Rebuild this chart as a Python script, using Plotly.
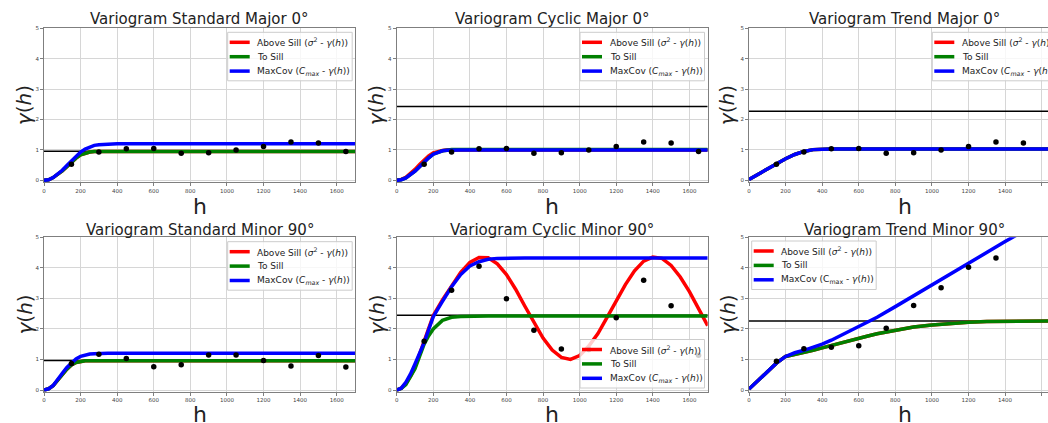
import plotly.graph_objects as go

# ---------------- data ----------------
TITLES = ["Variogram Standard Major 0°", "Variogram Cyclic Major 0°", "Variogram Trend Major 0°",
          "Variogram Standard Minor 90°", "Variogram Cyclic Minor 90°", "Variogram Trend Minor 90°"]

LAG_H = [150, 300, 450, 600, 750, 900, 1050, 1200, 1350, 1500, 1650]
major_pts = [0.53, 0.93, 1.04, 1.05, 0.89, 0.91, 1.00, 1.11, 1.26, 1.23, 0.95]
std_minor_pts = [0.87, 1.17, 1.03, 0.76, 0.83, 1.15, 1.15, 0.97, 0.79, 1.13, 0.75]
cyc_minor_pts = [1.60, 3.27, 4.05, 2.99, 1.96, 1.34, 1.33, 2.37, 3.59, 2.76, 1.14]
trend_minor_pts = [0.94, 1.35, 1.40, 1.45, 2.02, 2.77, 3.35, 4.02, 4.32]

SILLS = [0.96, 2.43, 2.27, 0.97, 2.45, 2.26]

# Standard major
h_std = [0, 25, 50, 75, 100, 125, 150, 175, 200, 225, 250, 275, 300, 350, 400, 1700]
std_major_green = [0, 0.02, 0.09, 0.19, 0.31, 0.45, 0.60, 0.73, 0.84, 0.90, 0.93, 0.945, 0.95, 0.95, 0.95, 0.95]
std_major_red = [0, 0.02, 0.09, 0.19, 0.31, 0.45, 0.60, 0.73, 0.84, 0.90, 0.93, 0.945, 0.95, 0.95, 0.95, 0.95]
std_major_blue = [0, 0.02, 0.09, 0.20, 0.33, 0.49, 0.65, 0.80, 0.93, 1.03, 1.10, 1.15, 1.17, 1.19, 1.20, 1.20]

# Cyclic major
cyc_major_blue = [0, 0.02, 0.08, 0.18, 0.30, 0.45, 0.60, 0.74, 0.86, 0.93, 0.97, 0.99, 1.00, 1.00, 1.00, 1.00]
cyc_major_green = [0, 0.02, 0.08, 0.18, 0.30, 0.45, 0.60, 0.74, 0.86, 0.93, 0.97, 0.99, 1.01, 1.01, 1.01, 1.01]
cyc_major_red = [0, 0.03, 0.10, 0.22, 0.36, 0.52, 0.67, 0.80, 0.90, 0.95, 0.98, 1.00, 1.00, 1.00, 1.00, 1.00]

# Trend major
h_trend_major = [0, 50, 100, 150, 200, 250, 300, 350, 400, 450, 1700]
trend_major_curve = [0.03, 0.20, 0.38, 0.55, 0.71, 0.85, 0.95, 1.01, 1.03, 1.03, 1.03]

# Standard minor
std_minor_green = [0, 0.04, 0.14, 0.30, 0.50, 0.68, 0.82, 0.90, 0.94, 0.955, 0.96, 0.96, 0.96, 0.96, 0.96, 0.96]
std_minor_red = [0, 0.04, 0.14, 0.30, 0.50, 0.68, 0.82, 0.90, 0.94, 0.955, 0.96, 0.96, 0.96, 0.96, 0.96, 0.96]
std_minor_blue = [0, 0.04, 0.15, 0.33, 0.55, 0.74, 0.90, 1.02, 1.10, 1.15, 1.18, 1.19, 1.20, 1.20, 1.20, 1.20]

# Cyclic minor
h_cyc_minor = [0, 25, 50, 75, 100, 125, 150, 175, 200, 250, 300, 350, 400, 450, 500, 550, 600, 700, 1700]
cyc_minor_blue = [0, 0.06, 0.25, 0.52, 0.85, 1.20, 1.55, 1.98, 2.40, 2.90, 3.38, 3.78, 4.06, 4.20, 4.28, 4.31, 4.32, 4.32, 4.32]
cyc_minor_green = [0, 0.05, 0.18, 0.42, 0.70, 1.10, 1.50, 1.78, 2.00, 2.28, 2.38, 2.41, 2.42, 2.42, 2.42, 2.42, 2.42, 2.42, 2.42]
h_cyc_red = [0, 25, 50, 75, 100, 125, 150, 175, 200, 250, 300, 350, 400,
             450, 500, 550, 600, 650, 700, 750, 800, 850, 900, 950, 1000, 1050, 1100, 1150,
             1200, 1250, 1300, 1350, 1400, 1450, 1500, 1550, 1600, 1650, 1700]
cyc_minor_red = [0, 0.06, 0.22, 0.45, 0.75, 1.15, 1.60, 2.02, 2.44, 2.95, 3.40, 3.85, 4.18,
                 4.34, 4.33, 4.13, 3.78, 3.30, 2.75, 2.20, 1.70, 1.31, 1.07, 1.00, 1.13, 1.44, 1.85, 2.38,
                 2.93, 3.45, 3.90, 4.22, 4.35, 4.31, 4.08, 3.70, 3.22, 2.68, 2.11]

# Trend minor
h_trend_minor = [0, 50, 100, 150, 200, 250, 300, 350, 400, 450, 500, 550, 600, 650, 700,
                 800, 900, 1000, 1100, 1200, 1300, 1400, 1500, 1600, 1700]
trend_minor_blue = [0.03, 0.32, 0.60, 0.88, 1.10, 1.22, 1.30, 1.40, 1.50, 1.63, 1.78, 1.92, 2.06, 2.22, 2.38,
                    2.73, 3.09, 3.44, 3.80, 4.15, 4.50, 4.86, 5.20, 5.55, 5.90]
trend_minor_green = [0.03, 0.32, 0.60, 0.88, 1.10, 1.16, 1.22, 1.30, 1.38, 1.46, 1.55, 1.63, 1.70, 1.77, 1.84,
                     1.96, 2.06, 2.13, 2.18, 2.22, 2.24, 2.25, 2.26, 2.26, 2.26]

H_MAX = 1700
Y_TICKS = [0, 1, 2, 3, 4, 5]
X_TICKS = [0, 200, 400, 600, 800, 1000, 1200, 1400, 1600]

RED_LABEL = "Above Sill (<i>σ</i><sup>2</sup> - <i>γ</i>(<i>h</i>))"
GREEN_LABEL = "To Sill"
BLUE_LABEL = "MaxCov (<i>C</i><sub><i>max</i></sub> - <i>γ</i>(<i>h</i>))"
BLUE_LABEL_6 = "MaxCov (C<sub>max</sub> - <i>γ</i>(<i>h</i>))"
SERIES = [("red", "#ff0000", RED_LABEL), ("green", "#008000", GREEN_LABEL), ("blue", "#0000ff", BLUE_LABEL)]

panels = [
    dict(red=(h_std, std_major_red), green=(h_std, std_major_green), blue=(h_std, std_major_blue),
         pts=(LAG_H, major_pts)),
    dict(red=(h_std, cyc_major_red), green=(h_std, cyc_major_green), blue=(h_std, cyc_major_blue),
         pts=(LAG_H, major_pts)),
    dict(red=(h_trend_major, trend_major_curve), green=(h_trend_major, trend_major_curve),
         blue=(h_trend_major, trend_major_curve), pts=(LAG_H, major_pts)),
    dict(red=(h_std, std_minor_red), green=(h_std, std_minor_green), blue=(h_std, std_minor_blue),
         pts=(LAG_H, std_minor_pts)),
    dict(red=(h_cyc_red, cyc_minor_red), green=(h_cyc_minor, cyc_minor_green),
         blue=(h_cyc_minor, cyc_minor_blue), pts=(LAG_H, cyc_minor_pts)),
    dict(red=(h_trend_minor, trend_minor_green), green=(h_trend_minor, trend_minor_green),
         blue=(h_trend_minor, trend_minor_blue), pts=(LAG_H[:len(trend_minor_pts)], trend_minor_pts)),
]

# ---------------- layout geometry (pixels) ----------------
W, H = 1048, 423
col_px = [(44, 355), (396.7, 707.7), (749, 1060)]
row_px = [(28.3, 182), (237.3, 391.7)]
# legend box: left, top
legend_box = [(227.7, 32.3), (580.0, 32.3), (932.3, 32.3),
              (227.7, 241.7), (580.0, 339.5), (751.7, 241.0)]
LEG_W, LEG_H = 124.5, 48.5
FONT = "DejaVu Sans"
TXT = "#222222"


def px(xp):
    return xp / W


def py(yp):
    return 1 - yp / H


fig = go.Figure()
layout = dict(width=W, height=H, margin=dict(l=0, r=0, t=0, b=0, autoexpand=False),
              paper_bgcolor="white", plot_bgcolor="white", showlegend=False,
              font=dict(family=FONT, color=TXT))

annotations = []
shapes = []

for i, p in enumerate(panels):
    r, c = divmod(i, 3)
    sfx = "" if i == 0 else str(i + 1)
    xa, ya = "x" + sfx, "y" + sfx
    x0, x1 = col_px[c]
    y0, y1 = row_px[r]
    x1c = min(x1, W)
    xmax = H_MAX * (x1c - x0) / (x1 - x0)

    axis_common = dict(showgrid=True, gridcolor="#d6d6d6", gridwidth=1, zeroline=False,
                       showline=True, linecolor="#7f7f7f", linewidth=1, mirror=True,
                       ticks="outside", ticklen=3, tickcolor="#7f7f7f",
                       tickfont=dict(size=5.5, color="#444444", family=FONT))
    layout["xaxis" + sfx] = dict(domain=[px(x0), px(x1c)], anchor=ya, range=[0, xmax],
                                 tickvals=X_TICKS, **axis_common)
    layout["yaxis" + sfx] = dict(domain=[py(y1), py(y0)], anchor=xa, range=[-0.055, 5.0],
                                 tickvals=Y_TICKS, **axis_common)

    # sill line
    fig.add_trace(go.Scatter(x=[0, H_MAX], y=[SILLS[i], SILLS[i]], mode="lines", name="Sill",
                             line=dict(color="black", width=1.5),
                             xaxis=xa, yaxis=ya, hoverinfo="skip"))
    for key, color, name in SERIES:
        hx, hy = p[key]
        fig.add_trace(go.Scatter(x=hx, y=hy, mode="lines", name=name,
                                 line=dict(color=color, width=3.5), xaxis=xa, yaxis=ya))
    ptx, pty = p["pts"]
    fig.add_trace(go.Scatter(x=ptx, y=pty, mode="markers", name="Experimental",
                             marker=dict(color="black", size=5.5), xaxis=xa, yaxis=ya))

    # legend (box, line samples, labels)
    lx, ly = legend_box[i]
    shapes.append(dict(type="rect", xref="paper", yref="paper", layer="above",
                       x0=px(lx), x1=px(lx + LEG_W), y0=py(ly + LEG_H), y1=py(ly),
                       fillcolor="rgba(255,255,255,0.8)", line=dict(color="#cccccc", width=1)))
    for k, (key, color, name) in enumerate(SERIES):
        rowy = ly + 10 + 14.4 * k
        shapes.append(dict(type="line", xref="paper", yref="paper", layer="above",
                           x0=px(lx + 2), x1=px(lx + 22), y0=py(rowy), y1=py(rowy),
                           line=dict(color=color, width=3.5)))
        label = BLUE_LABEL_6 if (i == 5 and key == "blue") else name
        annotations.append(dict(text=label, x=px(lx + 27.5), y=py(rowy), xref="paper", yref="paper",
                                xanchor="left", yanchor="middle", showarrow=False,
                                font=dict(size=9, family=FONT, color=TXT)))

    cx = px((x0 + x1) / 2)
    title_y = 19 if r == 0 else 230
    annotations.append(dict(text=TITLES[i], x=cx, y=py(title_y), xref="paper", yref="paper",
                            xanchor="center", yanchor="middle", showarrow=False,
                            font=dict(size=15, family=FONT, color=TXT)))
    hy_px = 206 if r == 0 else 414
    annotations.append(dict(text="h", x=cx, y=py(hy_px), xref="paper", yref="paper",
                            xanchor="center", yanchor="middle", showarrow=False,
                            font=dict(size=22, family=FONT, color=TXT)))
    gx = [24, 376, 727][c]
    gy = (y0 + y1) / 2
    annotations.append(dict(text="<i>γ</i>(<i>h</i>)", x=px(gx), y=py(gy), xref="paper",
                            yref="paper", xanchor="center", yanchor="middle", showarrow=False,
                            textangle=-90, font=dict(size=20, family=FONT, color=TXT)))

layout["annotations"] = annotations
layout["shapes"] = shapes
fig.update_layout(**layout)
fig.write_html("out.html", config={"displayModeBar": False},
               post_script="document.body.style.margin='0';document.body.style.overflow='hidden';")
